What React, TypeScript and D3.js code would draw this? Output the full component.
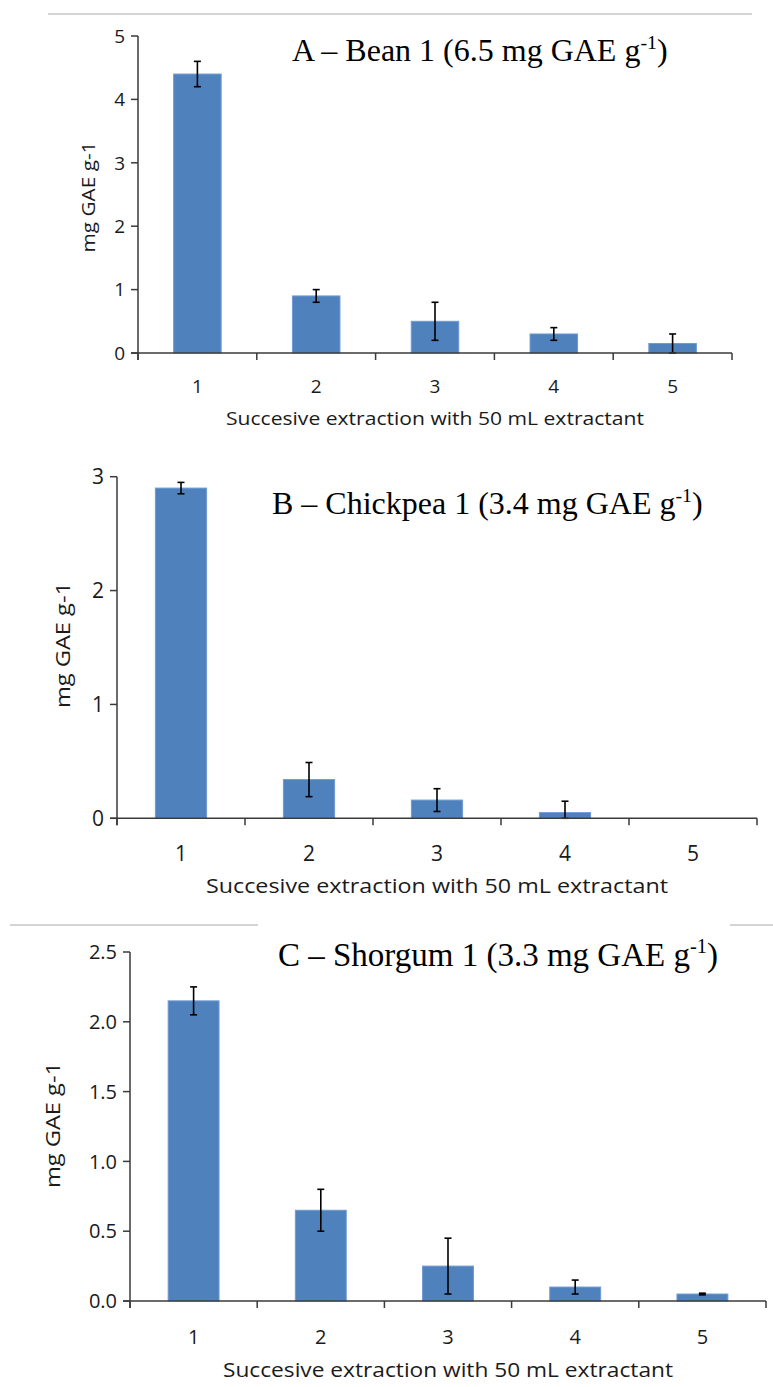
import React from "react";
import * as d3 from "d3";

// successive extraction number
const categories = ["1", "2", "3", "4", "5"];

// A - Bean 1
const beanValues = [4.4, 0.9, 0.5, 0.3, 0.15];
const beanErrors = [0.2, 0.1, 0.3, 0.1, 0.15];
const beanTicks = [0, 1, 2, 3, 4, 5];

// B - Chickpea 1
const chickpeaValues = [2.9, 0.34, 0.16, 0.05, 0];
const chickpeaErrors = [0.05, 0.15, 0.1, 0.1, 0];
const chickpeaTicks = [0, 1, 2, 3];

// C - Shorgum 1
const sorghumValues = [2.15, 0.65, 0.25, 0.1, 0.05];
const sorghumErrors = [0.1, 0.15, 0.2, 0.05, 0.006];
const sorghumTicks = [0, 0.5, 1, 1.5, 2, 2.5];

const xTitle = "Succesive extraction with 50 mL extractant";
const yTitle = "mg GAE g-1";

const BAR = "#4f81bd";
const AXIS = "#3a3a3a";
const SANS = "'Open Sans', Lato, sans-serif";
const SERIF = "'Liberation Serif', 'Times New Roman', serif";

function Panel(props) {
  const { values, errors, ticks, fmt, left, right, top, bottom, yMax,
    tickSize, titleSize, yTitleX, yTitleY, yTitleLen, labelY, xTitleY, xTitleLen,
    head, headX, headY, headSize } = props;

  const x = d3.scaleBand().domain(categories).range([left, right])
    .paddingInner(0.6).paddingOuter(0.3);
  const y = d3.scaleLinear().domain([0, yMax]).range([bottom, top]);
  const step = x.step();
  const bounds = d3.range(categories.length + 1).map(i => left + i * step);

  return (
    <g>
      {/* bars */}
      {categories.map((c, i) => (
        <rect key={"b" + c} x={x(c)} width={x.bandwidth()} y={y(values[i])}
          height={bottom - y(values[i])} fill={BAR} stroke="#6e9bd3" strokeWidth={1} />
      ))}
      {/* error bars */}
      {categories.map((c, i) => {
        if (!errors[i]) return null;
        const cx = x(c) + x.bandwidth() / 2;
        const y1 = y(values[i] + errors[i]);
        const y2 = y(Math.max(0, values[i] - errors[i]));
        return (
          <g key={"e" + c} stroke="#000" strokeWidth={1.6}>
            <line x1={cx} x2={cx} y1={y1} y2={y2} />
            <line x1={cx - 3.5} x2={cx + 3.5} y1={y1} y2={y1} />
            <line x1={cx - 3.5} x2={cx + 3.5} y1={y2} y2={y2} />
          </g>
        );
      })}
      {/* y axis */}
      <line x1={left} x2={left} y1={top} y2={bottom + 7} stroke={AXIS} strokeWidth={1.5} />
      {ticks.map(t => (
        <g key={"y" + t}>
          <line x1={left - 7} x2={left} y1={y(t)} y2={y(t)} stroke={AXIS} strokeWidth={1.5} />
          <text x={left - 13} y={y(t)} dy="0.36em" textAnchor="end" fontFamily={SANS}
            fontSize={tickSize} fill="#1a1a1a">{fmt(t)}</text>
        </g>
      ))}
      {/* x axis */}
      <line x1={left - 7} x2={right} y1={bottom} y2={bottom} stroke={AXIS} strokeWidth={1.5} />
      {bounds.map((b, i) => (
        <line key={"t" + i} x1={b} x2={b} y1={bottom} y2={bottom + 7} stroke={AXIS} strokeWidth={1.5} />
      ))}
      {categories.map(c => (
        <text key={"l" + c} x={x(c) + x.bandwidth() / 2} y={labelY} dy="0.36em" textAnchor="middle"
          fontFamily={SANS} fontSize={tickSize} fill="#1a1a1a">{c}</text>
      ))}
      <text x={(left + right) / 2} y={xTitleY} dy="0.36em" textAnchor="middle" fontFamily={SANS}
        fontSize={titleSize} fill="#1a1a1a" textLength={xTitleLen} lengthAdjust="spacingAndGlyphs">{xTitle}</text>
      <text transform={`translate(${yTitleX},${yTitleY}) rotate(-90)`} dy="0.36em" textAnchor="middle"
        fontFamily={SANS} fontSize={titleSize} fill="#1a1a1a" textLength={yTitleLen}
        lengthAdjust="spacingAndGlyphs">{yTitle}</text>
      {/* panel heading */}
      <text x={headX} y={headY} fontFamily={SERIF} fontSize={headSize} fill="#000">
        {head}<tspan dy={-headSize * 0.38} fontSize={headSize * 0.62}>-1</tspan>
        <tspan dy={headSize * 0.38}>)</tspan>
      </text>
    </g>
  );
}

export default function App() {
  const f0 = d3.format("d");
  const f1 = d3.format(".1f");
  return (
    <svg width={773} height={1387} style={{ position: "absolute", left: 0, top: 0, background: "#fff" }}>
      <rect width={773} height={1387} fill="#fff" />
      {/* separator lines */}
      <line x1={48} x2={752} y1={14} y2={14} stroke="#d4d4d4" strokeWidth={2} />
      <line x1={10} x2={258} y1={925} y2={925} stroke="#d4d4d4" strokeWidth={2} />
      <line x1={730} x2={773} y1={925} y2={925} stroke="#d4d4d4" strokeWidth={2} />

      <Panel values={beanValues} errors={beanErrors} ticks={beanTicks} fmt={f0}
        left={138} right={732} top={36} bottom={353} yMax={5}
        tickSize={19} titleSize={19} yTitleX={88} yTitleY={197} yTitleLen={111}
        labelY={386} xTitleY={418} xTitleLen={418}
        head="A – Bean 1 (6.5 mg GAE g" headX={292} headY={61} headSize={32} />

      <Panel values={chickpeaValues} errors={chickpeaErrors} ticks={chickpeaTicks} fmt={f0}
        left={117} right={757} top={476.7} bottom={818.3} yMax={3}
        tickSize={21} titleSize={20} yTitleX={63} yTitleY={645} yTitleLen={126}
        labelY={853} xTitleY={886} xTitleLen={462}
        head="B – Chickpea 1 (3.4 mg GAE g" headX={272} headY={514} headSize={32} />

      <Panel values={sorghumValues} errors={sorghumErrors} ticks={sorghumTicks} fmt={f1}
        left={130} right={766} top={952} bottom={1301} yMax={2.5}
        tickSize={20} titleSize={20} yTitleX={53} yTitleY={1125} yTitleLen={126}
        labelY={1337} xTitleY={1370} xTitleLen={450}
        head="C – Shorgum 1 (3.3 mg GAE g" headX={278} headY={966} headSize={33} />
    </svg>
  );
}
